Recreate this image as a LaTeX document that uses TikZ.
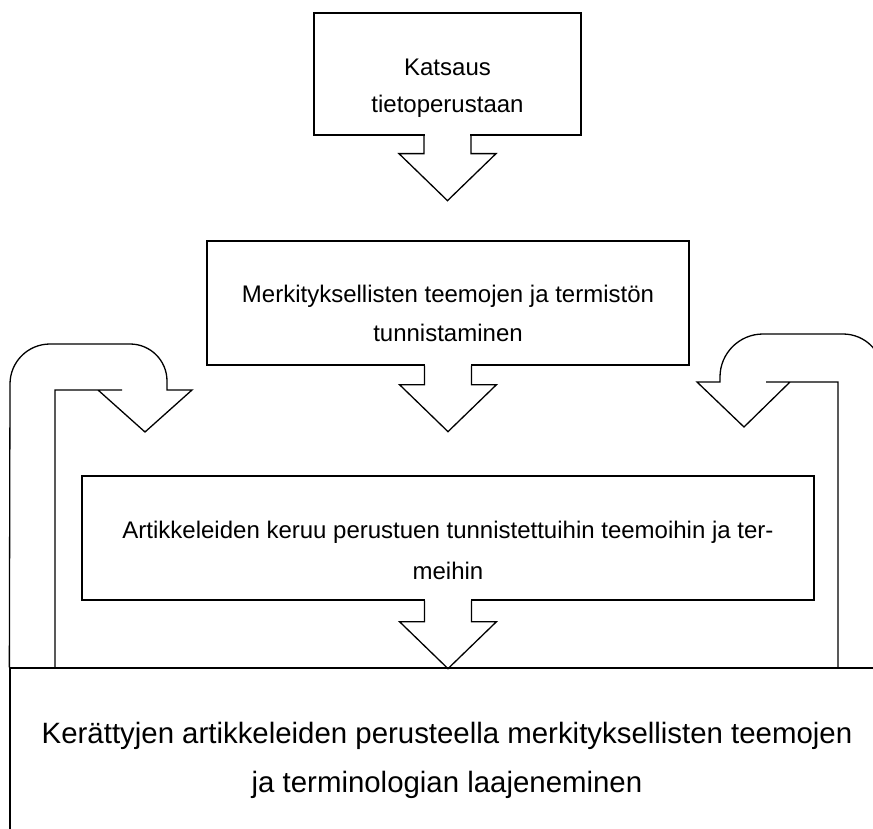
\documentclass[tikz,border=0pt]{standalone}
\usepackage{fontspec}
\setmainfont{Liberation Sans}
\begin{document}
\begin{tikzpicture}[x=1pt,y=-1pt,
  line/.style={draw=black,line width=1.3pt,line join=miter},
  box/.style={line,fill=white,rectangle,inner sep=0pt},
  txt/.style={inner sep=0pt,anchor=base,font=\fontsize{24}{28}\selectfont},
  bigtxt/.style={inner sep=0pt,anchor=base,font=\fontsize{29.4}{34}\selectfont}]
\useasboundingbox (0,0) rectangle (873,829);

% process boxes
\node[box,minimum width=267pt,minimum height=122pt] (b1) at (447.5,74) {};
\node[box,minimum width=482pt,minimum height=124pt] (b2) at (448,303) {};
\node[box,minimum width=732pt,minimum height=124pt] (b3) at (448,538) {};
\node[box,minimum width=873pt,minimum height=200pt] (b4) at (446.5,768) {};

% box texts
\node[txt] (t1a) at (447.5,76) {Katsaus};
\node[txt] (t1b) at (447.5,113) {tietoperustaan};
\node[txt] (t2a) at (448,302) {Merkityksellisten teemojen ja termistön};
\node[txt] (t2b) at (448,341) {tunnistaminen};
\node[txt] (t3a) at (448,538) {Artikkeleiden keruu perustuen tunnistettuihin teemoihin ja ter-};
\node[txt] (t3b) at (448,579) {meihin};
\node[bigtxt] (t4a) at (447,743) {Kerättyjen artikkeleiden perusteella merkityksellisten teemojen};
\node[bigtxt] (t4b) at (447,792) {ja terminologian laajeneminen};

% block arrows leaving the bottom of each box
\foreach \src/\stem in {b1/18, b2/19, b3/21}{
  \fill[white] ([xshift=-22.8pt,yshift=2pt]\src.south) rectangle ([xshift=22.8pt,yshift=-2pt]\src.south);
  \draw[line] ([xshift=-23.5pt]\src.south) -- ++(0,\stem) -- ++(-25,0)
    -- ++(48.5,47) -- ++(48.5,-47) -- ++(-25,0) -- ++(0,-\stem);
}

% left U-turn arrow looping back into the third box
\draw[line] (b4.north west) -- (10,384)
  arc[start angle=180,end angle=90,radius=40pt] -- (130,344)
  arc[start angle=90,end angle=0,radius=37pt] -- (167,390)
  -- (192,390) -- (145,432) -- (98,390) -- (122,390)
  -- (55,390) -- (55,668);

% right U-turn arrow looping back into the third box
\draw[line] (b4.north east) -- (883,374)
  arc[start angle=0,end angle=90,radius=40pt] -- (763,334)
  arc[start angle=90,end angle=180,radius=43pt] -- (720,382)
  -- (697,382) -- (744,427) -- (790,382) -- (766,382)
  -- (838,382) -- (838,668);
\end{tikzpicture}
\end{document}
